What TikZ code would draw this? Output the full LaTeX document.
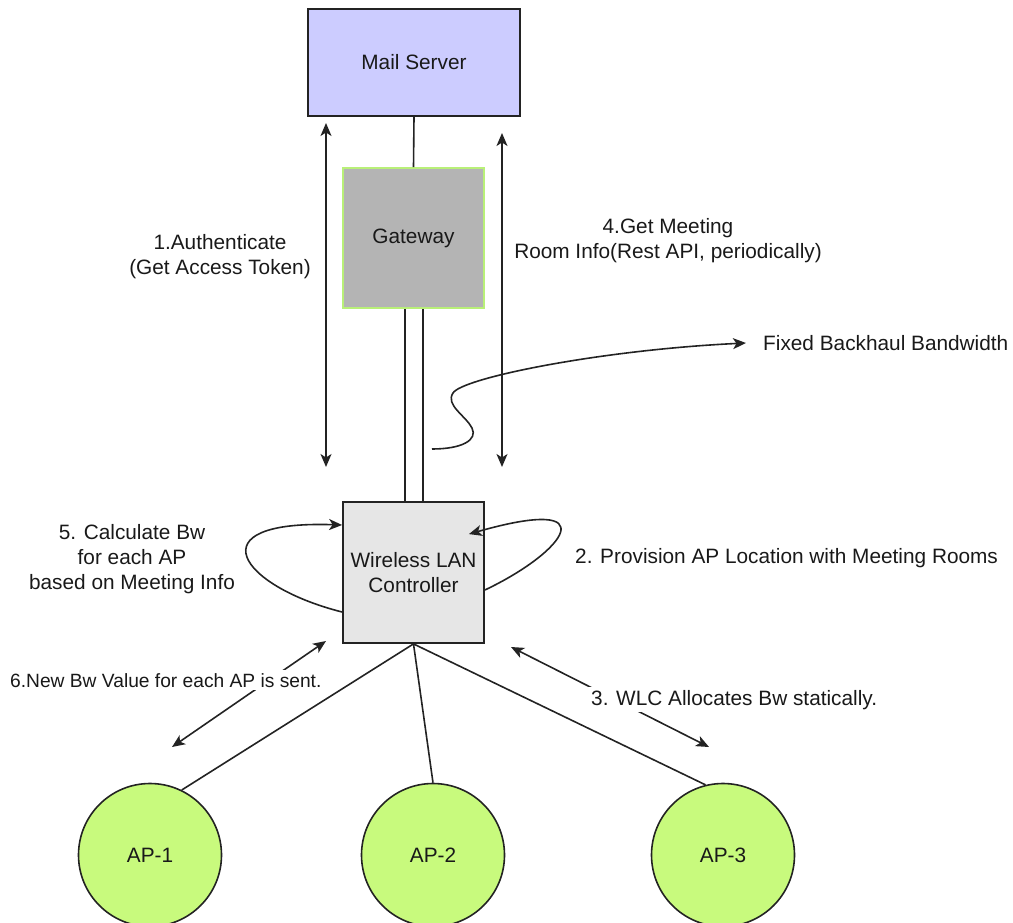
\documentclass[tikz,border=0pt]{standalone}
\usepackage{fontspec}
\setmainfont{Liberation Sans}
\usetikzlibrary{arrows.meta,calc}
\definecolor{ink}{RGB}{35,35,35}
\definecolor{txtc}{RGB}{25,25,25}
\definecolor{mailfill}{RGB}{204,204,255}
\definecolor{gwfill}{RGB}{180,180,180}
\definecolor{gwline}{RGB}{185,240,120}
\definecolor{wlcfill}{RGB}{230,230,230}
\definecolor{apfill}{RGB}{200,250,125}
\tikzset{
  txt/.style={font=\fontsize{20.8bp}{25bp}\selectfont, text=txtc},
  box/.style={draw=ink, line width=1.8bp, txt, align=center},
  apnode/.style={circle, draw=ink, line width=1.6bp, fill=apfill, minimum size=143bp, inner sep=0pt, txt},
  conn/.style={draw=ink, line width=1.6bp},
  tip/.style={-{Stealth[length=13bp,width=11bp,inset=3.5bp]}},
  dtip/.style={{Stealth[length=13bp,width=11bp,inset=3.5bp]}-{Stealth[length=13bp,width=11bp,inset=3.5bp]}},
}
\begin{document}
\begin{tikzpicture}[x=1bp,y=-1bp]
\path[use as bounding box] (0,0) rectangle (1013,923);
% boxes
\node[box, fill=mailfill, minimum width=212bp, minimum height=107bp] (mail) at (414,62.5) {Mail Server};
\node[box, draw=gwline, fill=gwfill, minimum width=141bp, minimum height=140bp] (gw) at (413.5,238) {Gateway};
\node[box, fill=wlcfill, minimum width=141bp, minimum height=141bp] (wlc) at (413.5,572.5) {Wireless LAN\\Controller};
% APs
\node[apnode] (ap1) at (150,855) {AP-1};
\node[apnode] (ap2) at (433,855) {AP-2};
\node[apnode] (ap3) at (723,855) {AP-3};
% links
\draw[conn] (mail.south) -- (gw.north);
\draw[conn] ([xshift=-8.5bp]gw.south) -- ([xshift=-8.5bp]wlc.north);
\draw[conn] ([xshift=9.5bp]gw.south) -- ([xshift=9.5bp]wlc.north);
\draw[conn] (wlc.south) -- (ap1.64);
\draw[conn] (wlc.south) -- (ap2.north);
\draw[conn] (wlc.south) -- (ap3.104);
% vertical double arrows
\coordinate (a1t) at (326,123);
\coordinate (a1b) at (326,467);
\coordinate (a4t) at (502,133);
\coordinate (a4b) at (502,467);
\draw[conn, dtip] (a1t) -- (a1b);
\draw[conn, dtip] (a4t) -- (a4b);
\node[txt, align=center] (lbl1) at (220,257) {1.Authenticate\\(Get Access Token)};
\node[txt, align=center] (lbl4) at (668,241) {4.Get Meeting\\Room Info(Rest API, periodically)};
% backhaul squiggle
\node[txt, anchor=base west, inner sep=0pt] (fbb) at (763,350) {Fixed Backhaul Bandwidth};
\coordinate (bh) at (432,449);
\draw[conn, tip] (bh) .. controls (462,449) and (478,440) .. (472,428)
  .. controls (466,416) and (445,405) .. (453,393)
  .. controls (462,378) and (600,350) .. ([xshift=-17bp]fbb.west |- 0,343);
% loops
\coordinate (L1) at ($(wlc.west)+(0,39.5)$);
\coordinate (L2) at ($(wlc.west)+(0,-47.5)$);
\draw[conn, tip] (L1) .. controls +(-103,-26) and +(-148,-5) .. (L2);
\node[txt, align=center] (lbl5) at (132,559) {5. Calculate Bw\\for each AP\\based on Meeting Info};
\coordinate (R1) at ($(wlc.east)+(0,17.5)$);
\coordinate (R2) at ($(wlc.north east)+(-16,33)$);
\draw[conn, tip] (R1) .. controls +(80,-38) and +(140,-40) .. (R2);
\node[txt, anchor=base west, inner sep=0pt] (lbl2) at (575,563) {2. Provision AP Location with Meeting Rooms};
% diagonal double arrows
\coordinate (a6t) at (326,641);
\coordinate (a6b) at (172,747);
\coordinate (a3t) at (511,647);
\coordinate (a3b) at (709,747);
\draw[conn, dtip] (a6t) -- (a6b);
\draw[conn, dtip] (a3t) -- (a3b);
\node[txt, font=\fontsize{19.2bp}{23bp}\selectfont, anchor=base west, fill=white, inner sep=3bp] (lbl6) at (7,687) {6.New Bw Value for each AP is sent.};
\node[txt, anchor=base west, fill=white, inner sep=3bp] (lbl3) at (588,705) {3. WLC Allocates Bw statically.};
\end{tikzpicture}
\end{document}
